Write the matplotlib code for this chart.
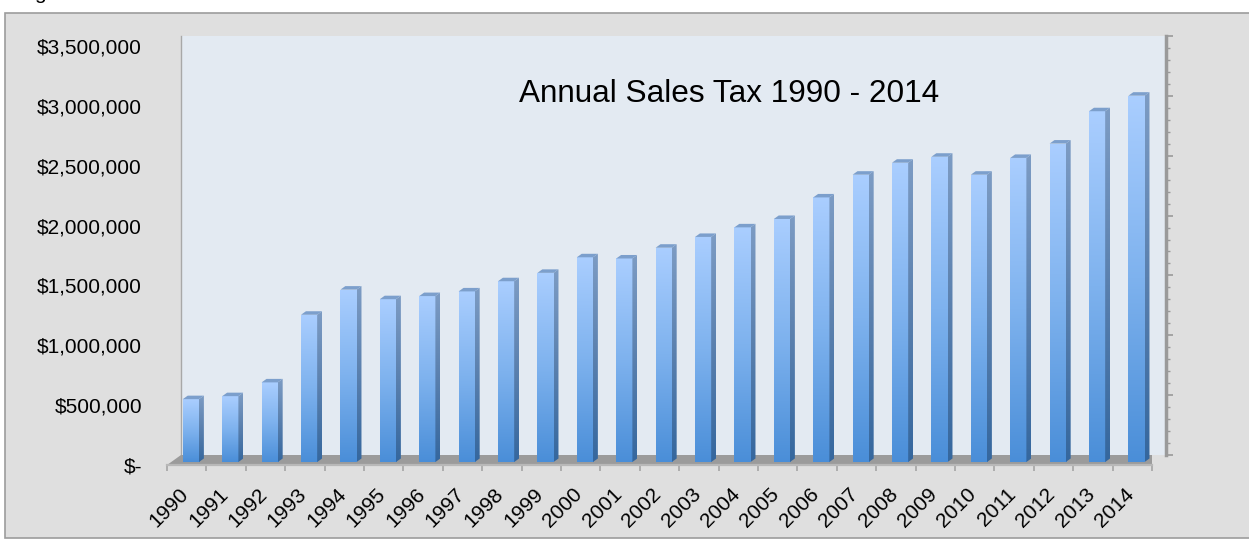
import numpy as np
import matplotlib
matplotlib.use("Agg")
import matplotlib.pyplot as plt
from matplotlib.patches import Polygon, Rectangle
from matplotlib.colors import LinearSegmentedColormap
from matplotlib.ticker import FuncFormatter, MultipleLocator

# ---- data -------------------------------------------------------------
years = [str(y) for y in range(1990, 2015)]
sales_tax = [525000, 550000, 665000, 1230000, 1440000, 1360000, 1386000,
             1425000, 1510000, 1580000, 1710000, 1700000, 1790000, 1880000,
             1960000, 2030000, 2210000, 2400000, 2500000, 2550000, 2400000,
             2540000, 2660000, 2930000, 3060000]
value_ticks = [0, 500000, 1000000, 1500000, 2000000, 2500000, 3000000, 3500000]
chart_title = "Annual Sales Tax 1990 - 2014"

plt.rcParams['font.family'] = ['Liberation Sans', 'DejaVu Sans']

W, H = 1249, 540
fig = plt.figure(figsize=(W / 100, H / 100), dpi=100, facecolor='white')


def px_box(left, top, width, height):
    return [left / W, 1 - (top + height) / H, width / W, height / H]


# outer chart frame (runs off the right edge of the page)
fig.patches.append(Rectangle((5 / W, 1 - 538 / H), (W + 20) / W, (538 - 13) / H,
                             transform=fig.transFigure, fc='#DFDFDF',
                             ec='#9C9C9C', lw=1.2, zorder=0))

# tail of the caption line sitting just above the chart
fig.text(34 / W, 1 + 1 / H, 'g', ha='left', va='baseline', fontsize=15,
         color='black')

# front plane geometry (pixels) and depth of the 3-D box
FL, FR, FB, FT = 167, 1152, 465, 46
DX, DY = 14, 10

n = len(years)
ymax = value_ticks[-1]
ux = (FR - FL) / n          # px per category
uy = (FB - FT) / ymax       # px per dollar
ddx = DX / ux
ddy = DY / uy

# back wall
wall = fig.add_axes(px_box(FL + DX, FT - DY, FR - FL, FB - FT), zorder=1)
wall.set_facecolor('#E3EAF2')
wall.set_xlim(-0.5, n - 0.5)
wall.set_ylim(0, ymax)
wall.set_xticks([])
for s in ('top', 'bottom'):
    wall.spines[s].set_visible(False)
wall.spines['left'].set_color('#A8A8A8')
wall.spines['left'].set_linewidth(1.0)
wall.spines['right'].set_color('#9A9A9A')
wall.spines['right'].set_linewidth(2.5)
wall.yaxis.tick_right()
wall.yaxis.set_major_locator(MultipleLocator(500000))
wall.yaxis.set_minor_locator(MultipleLocator(100000))
wall.tick_params(axis='y', which='major', length=5, width=1.2, color='#9A9A9A',
                 labelright=False, direction='out')
wall.tick_params(axis='y', which='minor', length=3, width=1.0, color='#9A9A9A',
                 direction='out')

# front plane axes holding floor, bars and labels
ax = fig.add_axes(px_box(FL, FT, FR - FL, FB - FT), zorder=2)
ax.set_facecolor('none')
ax.set_xlim(-0.5, n - 0.5)
ax.set_ylim(0, ymax)
for s in ('top', 'left', 'right'):
    ax.spines[s].set_visible(False)
ax.spines['bottom'].set_color('#B8B8B8')
ax.spines['bottom'].set_linewidth(1.6)

# floor
floor = Polygon([(-0.5, 0), (n - 0.5, 0), (n - 0.5 + ddx, ddy), (-0.5 + ddx, ddy)],
                closed=True, fc='#9B9B9B', ec='none', zorder=1)
ax.add_patch(floor)

front_cmap = LinearSegmentedColormap.from_list('front', ['#4A8ED8', '#7EB2EE', '#AACEFF'])
side_cmap = LinearSegmentedColormap.from_list('side', ['#35679E', '#5A80AE', '#7D9CC4'])
grad = np.linspace(0, 1, 256).reshape(-1, 1)

bar_w = 0.41
f0 = 0.30       # depth of bar front face
fd = 0.35       # bar depth
bx = np.arange(n) + f0 * ddx
b0 = f0 * ddy
sdx, sdy = fd * ddx, fd * ddy

bars = ax.bar(bx, sales_tax, width=bar_w, bottom=b0, color='none',
              edgecolor='none', zorder=3)

for rect, x, v in zip(bars, bx, sales_tax):
    xl, xr = x - bar_w / 2, x + bar_w / 2
    top = b0 + v
    im = ax.imshow(grad, extent=[xl, xr, b0, top], origin='lower', aspect='auto',
                   cmap=front_cmap, interpolation='bilinear', zorder=3)
    im.set_clip_path(rect)
    side = Polygon([(xr, b0), (xr, top), (xr + sdx, top + sdy), (xr + sdx, b0 + sdy)],
                   closed=True, fc='none', ec='none', zorder=3)
    ax.add_patch(side)
    im2 = ax.imshow(grad, extent=[xr, xr + sdx, b0, top + sdy], origin='lower',
                    aspect='auto', cmap=side_cmap, interpolation='bilinear', zorder=3)
    im2.set_clip_path(side)
    ax.add_patch(Polygon([(xl, top), (xr, top), (xr + sdx, top + sdy), (xl + sdx, top + sdy)],
                         closed=True, fc='#7C9FCC', ec='none', zorder=4))

ax.set_xlim(-0.5, n - 0.5)
ax.set_ylim(0, ymax)

# category axis: ticks at boundaries, labels at centers
ax.set_xticks(np.arange(n + 1) - 0.5)
ax.set_xticklabels([])
ax.tick_params(axis='x', which='major', length=4, width=1.2, color='#A5A5A5',
               direction='out')
ax.set_xticks(np.arange(n) + 0.14, minor=True)
ax.set_xticklabels(years, minor=True, rotation=45, ha='right', fontsize=15)
ax.tick_params(axis='x', which='minor', length=0, pad=14)

# value axis labels
ax.set_yticks(value_ticks)
ax.yaxis.set_major_formatter(FuncFormatter(lambda v, p: '$-' if v == 0 else f'${v:,.0f}'))
ax.tick_params(axis='y', length=0, pad=18, labelsize=15)

fig.text(729.5 / W, 1 - 102 / H, chart_title, ha='center', va='baseline',
         fontsize=22.7, color='black', zorder=5)

fig.savefig('out.png', dpi=100, facecolor=fig.get_facecolor())
